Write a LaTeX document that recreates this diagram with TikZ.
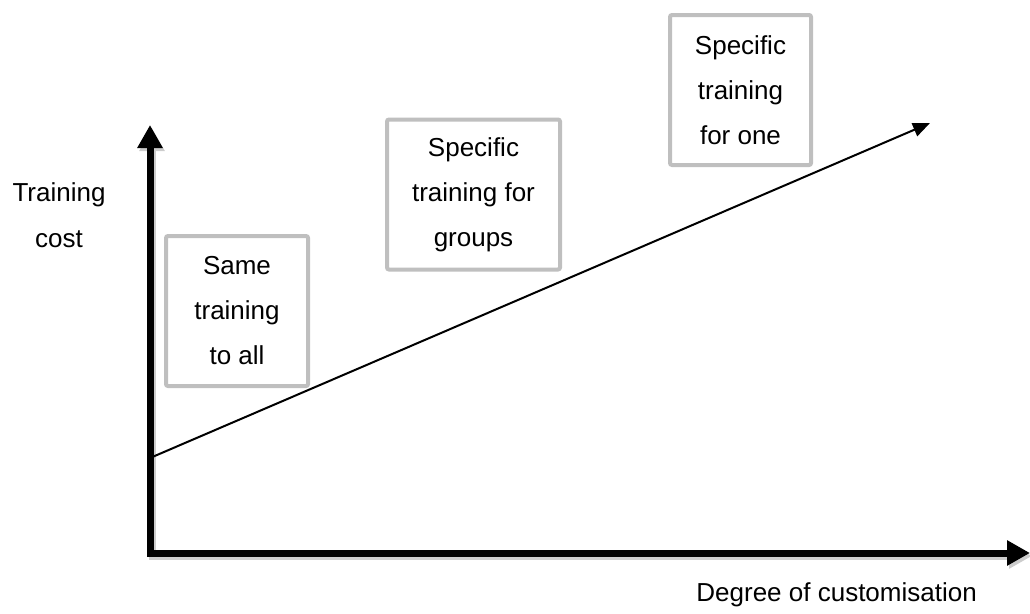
\documentclass[tikz,border=0pt]{standalone}
\usepackage{fontspec}
\setmainfont{Liberation Sans}
\usetikzlibrary{arrows.meta,positioning}
\definecolor{boxgray}{RGB}{191,191,191}

\begin{document}
\begin{tikzpicture}[
  x=1pt, y=-1pt,
  box/.style={rectangle, rounded corners=2pt, draw=boxgray, line width=4pt, inner sep=0pt, minimum height=150pt, align=center, font=\fontsize{26pt}{45pt}\selectfont},
  lbl/.style={align=center, inner sep=0pt, font=\fontsize{26pt}{46pt}\selectfont},
  axis/.style={line width=7pt, line join=miter, {Triangle[length=23pt,width=24pt]}-{Triangle[length=23pt,width=24pt]}},
  arr/.style={-{Triangle[length=17pt,width=14pt]}, line width=2pt}
]
\useasboundingbox (0,0) rectangle (1030,613);

\coordinate (origin) at (150,553);
\coordinate (ytip) at (150,125);
\coordinate (xtip) at (1030,553);
\coordinate (start) at (150,458);
\coordinate (end) at (930,123);

% axes
\draw[axis, black!20, transform canvas={xshift=2pt, yshift=-3pt}] (ytip) -- (origin) -- (xtip);
\draw[axis] (ytip) -- (origin) -- (xtip);
\draw[arr] (start) -- (end);

\node[lbl] (ylabel) at (59,215) {Training\\cost};
\node[lbl, anchor=east] (xlabel) at (977,595) {Degree of customisation};

% boxes
\node[box, minimum width=142pt] (b1) at (237,311) {Same\\training\\to all};
\node[box, minimum width=173pt] (b2) at (473.5,194.5) {Specific\\training for\\groups};
\node[box, minimum width=141pt] (b3) at (740.5,90) {Specific\\training\\for one};
\end{tikzpicture}
\end{document}
